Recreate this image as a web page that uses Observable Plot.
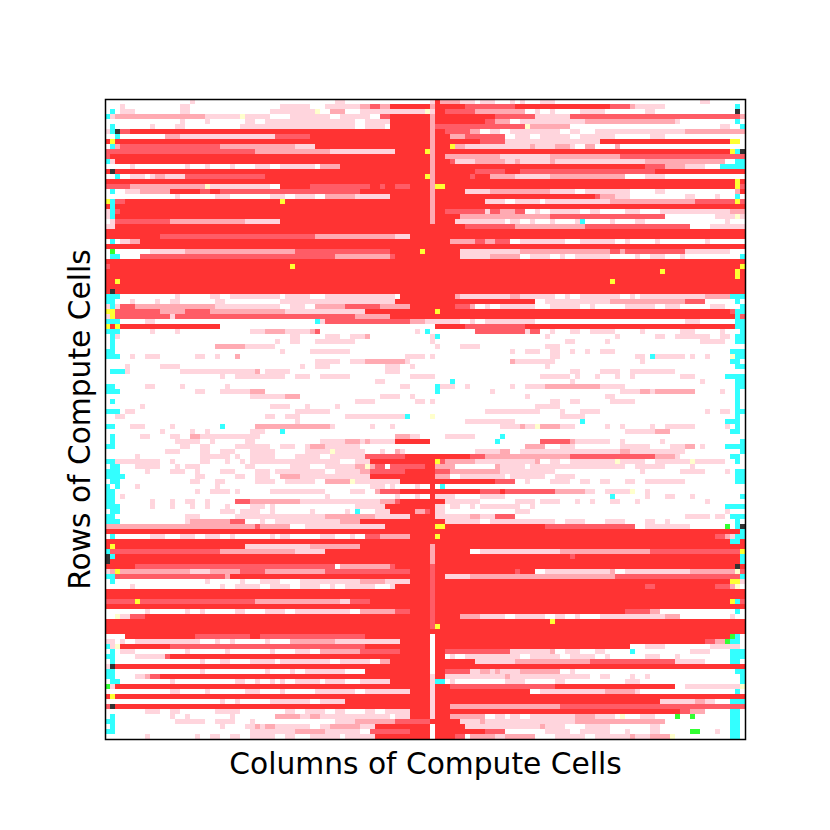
<!DOCTYPE html>
<html>
<head>
<meta charset="utf-8">
<style>html,body{margin:0;padding:0;background:#fff}</style>
<script src="https://cdn.jsdelivr.net/npm/d3@7"></script>
<script src="https://cdn.jsdelivr.net/npm/@observablehq/plot@0.6"></script>
</head>
<body>
<div id="chart"></div>
<script>
const colorKeys = ["w","p","s","o","R","C","Y","K","G","L"];
const colorValues = ["#ffffff","#ffd5dd","#ffaab2","#ff5c66","#ff3333","#33ffff","#ffff33","#333333","#33ff33","#ffffcc"];
const xLabel = "Columns of Compute Cells";
const yLabel = "Rows of Compute Cells";
// each row: start column + state letter, a run lasts until the next start
const rows = [
"0w17p18w46p48w65p66R67s71p74w75p78w81p82w83p84w87p90w119p121w",
"0w3p4w15p17w35p41w44p51s53o55s57R65s66R72o82R101o105s106p112w126C127w",
"0w1C2w3p6w15p17w33p42L43w45s48w51p64L65p66R68o74s84w86p87w89p90w95p100w108p110w126K127w",
"0C1p2s20p27L28p33w37p45w47p53w55o57R65s66R78o86p93o127s",
"0w15p16w20p21w28p30w32p50w52p57R65s66R76o78s81w83p96s114p115w126C127w",
"0w1C2w9p10w14p16w27p50w52p56w57R65s66o84L85s93w123p125w127C",
"0p1C2K3o5R65s66R68o73s75w77p79w81p91w93p95w98p116s",
"0w2C3w12s15p34o41R65s66R69s72o80w82p85w87p93w95p102w109p112w",
"0R1Y2R65s66R75o80p99R125Y127w",
"0w1C2s3o23s38p42R65s66R69Y70s72p85s86p90s93p94w96s98w102s103w",
"0o30s45p58R64Y65s66R125Y126C127K",
"0o1R65s66R68s79p89s103o",
"0C1p2R65s66R69o70p74s80p82s83p89s90p108s124w126C",
"0w5p6w16p17w20p21w25p26w30p33w35p42w43s47R65s66R108o112s116p120w123C",
"0R1K2R65s66R74o80R83o110R",
"0w2C3w5p8w9p10s12p16o32R64Y65s66R73o74R77s82p89s104w108p112w",
"0R65s66R126Y127R",
"0o5s20L21p33w35R41o53R55o56R58o61R65s66Y68R126Y127o",
"0w1C2w4p7s13R19o21R23o51R65s66R72p77s89p94w96p105w110p112w126s127R",
"0w14p15w22p25w33p36w38p42w44s50p57R65s66R98o99s102p105w116p118w122p123w126C127w",
"0Y1C2o4R35Y36R65s66R76p80w82p87w88p101s118o126Y127o",
"0R1C2R65s66R",
"0p1C2o3R65s66R68o76p77o79s82o84w86p87w89p95w97p99w104p107w111p125s",
"0p1C2R65s66R71s89o112w122p126L127p",
"0w1p2o13s28p35R65s66R70p80w81p83w85p86w89p90w94p95C96w101p102w106p108w124p125w",
"0p2R72o82s96o117w121p",
"0R",
"0R11o42s58p61R",
"0w1C2w3p5s7R69s74o76s78o81w83p92w95p102w104p105w110p111w120p121w",
"0R",
"0w1G2w9p16s38o57R63Y64R71p83s101o103s104o116p125w",
"0w1C3w7o46s57o58R71p77s83w85p89w91p92w94p101w106p107w109p112w115p116w127C",
"0R",
"0o1R37Y38R127Y",
"0R111Y112R126Y127R",
"0R126Y127R",
"0R2Y3R101Y102R",
"0R",
"0R1K2R",
"0C3w14p15w21p23w25p35w36p41w44p58w59R70s71p81s83p90w92p93w95p103w105p106w107p120s125C",
"0C2w5p6w10p11w13p15w22p24w35p58R86w88p101s116o120w126C127w",
"0p1C2p3o6s22p35w37p40w42s48o55s61R70o73s74w76p77w79p86w89p95w97p98w104p110w112p115w121p124w127C",
"0Y2o11s16o21s36p52R66Y67R125o126C",
"0p1Y2o13p14o50s57R126C127o",
"0C3w8p10w42C43p44o61s64p71w73p74w76p86w116p119w126C",
"0Y1R2Y3R23w66R72o84R126C",
"0C3w9p10w14p15w29p32s36p41s42o43w62p63w64C65w74o84p85o87w89p90w93p95w97p102w107p108w115p118w123p124w127C",
"0w1C2p3w37p39w44p47w49p52s53w65p66C67w88p89w102p103w110p112w114p121w123p125w126C",
"0w1C2w34p35w37p39w42p50w65p66w92p94w100p101w119p124w126C",
"0w1C2w22s28p34w66p67w71p75w88p91w",
"0C2w35p36w41p49w81p82w84p87w89p91w93p94w96p97w99p102w125C",
"0C3w5p6w8p11w18p20w22p23w26s27w60p64w65p66w89p91w106p108w109C110p116w117p118w120p121w125L126C",
"0w42p47w49p52s60p61w81s82p90w107p108w125C127w",
"0w4p5w11p15w39p40w42p45w56p59w61p62w88p89w126C",
"0w1C4p5w15p30s31w32p37w56p59w93p95w99p103w105p114w",
"0w23p24w26p36w38p41w43p49w61p66w87p93w94p95w98p99w102p103w105p106w115p118w124C",
"0w54p56w69C70w93p94w119p120w126C",
"0C2w8p10w15p16w24p25w59p61w66C67p70w72p73w81p82w84p88s99p104w126C",
"0C3w18p20w23p29s32w66C67w77p78w103p107s109p110s118w123p124w126C127w",
"0w29p36s39w55p59w61p62w84p85w100p102w126C127w",
"0w1C2w50p54w62p64w65p66w89p91w93p95w101p106w126C127w",
"0w7p8w33p37w40p41w46p47w86p91w126C127w",
"0C3w4p6w38p45w76p87w91p92w95p99w120p121w123p125w126C",
"0w2p4w32p34w36p39w48p60C61w65L66w91p96w126C127w",
"0w38p39w72p82w95C96w124C127w",
"0C2w5p8w13p14w23C24w30s45p46w53p54w57p58w79p83s84p86L87s91p94w100p101w103p104w109p110w112p118w124p125w126C127w",
"0w11p12w17p18w20p21w29p32w35C36w104p110s113w125C127w",
"0w1C2w7p9w13p15w17s19p31w58s61p63w68p74w79C80w",
"0w1C2w14p19w21p22w28p30w43p48s51p52s53p58R65w78C79w87o93s94p101w103p104w111p112w127C",
"0C2w15p17w19p21w26p33w35p38w40p41s44p51w84s88w91p94w103p109w113p116s118w119p120w124C",
"0w12p15w19p21w23p26w29p34w40p45L46p52w55p56w58s59p60w74p79s81w83p103s105p116w127C",
"0w6p7w19p25w26p27w29p34w38p43w45p52o60R73o76s93o110s114p115w125C127w",
"0C2p11w13p14w19p21w24p25w27p28w29p47w50p53R66Y67o68s74p86s87w89p91w93p102L103p108w110p117L118p124w126C127w",
"0w1C3w6p11w14p15w16p19w28p30w37p41w44p50s52L53s54o56w57o64R66s70w78s79p84w85p104w106p112w117p118w",
"0C3w8p9w13p16w18p19w23p26w30p33w34p44w46p51s53o60R66o69s79p90w107p108w115p120w124p125w126C",
"0C4w18p20w26p28w30p33w35s39p53R66s69w71p80w81p88w90p94w126C",
"0w1C3w17p19w22p24w30p34w36p42w44s49L50p59R78o82w84p85w89p93w95p97w99p101w104p106w108p116w126C",
"0C1w2C3w6p7w22p23w53p56w57p58w62p63w65R66w67C68w",
"0C2w18p19w21p25w26p27w33p44w49p52w54s55o59R75o79R80o90s96p98w100p105L106w108p109w",
"0C2w3p4w44p45w58p59w62p63w65R66p70w75p80w101C102w108p109w112p114w117p118w127C",
"0C2w9p10w13p14w16p18w20p21w26o29s39p55s58o59R68p75w82p86w87p91w94p95w97p98w101p103w106p107w120p121w",
"0C3w9p10w13p14w17p18w20p21w24p25w29p32w33p34w50p56R66p68w69p71w73p74w75p83w85p86w124C",
"0w1C3w23p26w27p31w33p34w41p42w48p49w50C51w54p57R62s64o65R66p68w82p85w124p125w",
"0C2w16p19w26p44s54p61R66p73s75p78o82w116p121w122p124w125C",
"0C3w16p17s25o28w31p32w34p47s51R68p75w77p90w92p96w100p104w108p110w112p113w126C127w",
"0s30o31s37w40p56R66Y68R88o106w108p117w124G125w126C127K",
"0R127C",
"0w1C2w9p12w15p18w20p23w25p26w33p34w35p37w43p46w49p50w52o55s61R66Y67R122o124s125p126C",
"0R125C127R",
"0R1Y2R28p41s51R65s66R",
"0C1o23s38p44R65s66R73w75p91s109o127Y",
"0K1C2R65s66R93o94R127C",
"0K1R65s66R127C",
"0R6o46w47s57o58R65o66R126K127R",
"0p1s2Y3s17p21s27o32s44o61R65o66R82o83R86w88p101s102w104p117s126L127o",
"0C2o24s25R65o66R68p73s102o127C",
"0w1C2w20p21w27p28w31p35w39p51s56p61R65o66R125Y127p",
"0w5p6w23p24w26p31w33p37w39p43w45p46w48p54w57p58R65o66R108o110R122o125s126L127w",
"0R65o66R",
"0R65o66R",
"0o6Y7o30s47p49o53R65o66R125Y126C127o",
"0R65o66R",
"0w8p9w16p17w19p20w26p28w32p36w38p49w51s58o61R65o66R104o109s111w126C127w",
"0w2L3p5o8R65o66R71s75p80w82p88w90p92w94p95w99p112s115w125p126w",
"0R65o66R89Y90R",
"0R65o66Y67R",
"0R",
"0w4R18o29R31o52R65w66R125G126C127w",
"0p2w3p4w6p19w22p23w25p26w32p33w37s46p59R65w66R120o122s124G125C127w",
"0C1p2L3R13o52R65w66R105w108p112w121p127w",
"0w1C2w3p6w16p17w24p25w33p34w38p41w43s51o59R65w66R68o81p89s90w92p95w98p100w105C106w117p121w125C",
"0C2w6p12o13R65w66R68w69p70w72p83w85p91w93p98w100p101w108p111w114p115w125C",
"0w1C2w19p20w23p25w29p34w35p45w47p53w55s57R65w66R74p82s97o114p120w125C127w",
"0p1K2R65w66R",
"0C2w19p20w32p33w37p38w40p48w52R65w66R68o73p75s77p78s79p83s91w93p94w126C",
"0C2w6p8s9o11R65p66R68p80s81p97w99p101w105p106w108p109w127C",
"0w1C3w13p14w26p28w30p31w33p34w35p36w38p43w44p48w51p57R65p66C68w69p70w80p84w90p92w104p107w127C",
"0G1p2R65p66R69o90R114w116p127L",
"0w13p15w20p21w28p31w35p36w42p50w52p61R65p66R85w87p100s106p107w126C127w",
"0R1Y2R65p66R",
"0w23p24w26p27w33p41w43p48R65p66R111p118s120p122w125C",
"0o1K2R65p66R69s91o",
"0w8p11w13p15w22p27w36p38w40p44w46p48w52p54w56p61R65p66R115o117s120w125C127w",
"0w1C2w13p14w16p17w25p26w34s39p41s43p57w58p61R65p66R69s76w78p80w81p83w85p94s98p102w103L104w107p110w114G115w117G118w125C127w",
"0C2w14p20w22p26w29p30w46p50s58o65R71p75s76p94s112w125C127w",
"0w1C2w23p24w28p30s31p32s34p41w43p45s51p54R65w66R72p87s88p92w96p101w109p111w125C127w",
"0C2w29p38s44p51w53o61R65w66R76o80w88p93w95p101w104p105w109p111w117G119w122p123w125C127w",
"0w8p9w18p19w21p23w25p27w29p34w36p38w41p47w48p54R65w66R70o72w73s78p80s86w90p96w98p105s106p109s113L114w125C127w"
];
const columnCount = 128;
const cells = rows.flatMap((row, r) => {
  const runs = [...row.matchAll(/(\d+)([a-zA-Z])/g)].map(m => [+m[1], m[2]]);
  return runs.flatMap(([start, state], i) => {
    const end = i + 1 < runs.length ? runs[i + 1][0] : columnCount;
    return d3.range(start, end).map(c => ({row: r, col: c, state}));
  });
});
const chart = Plot.plot({
  width: 830,
  height: 830,
  marginLeft: 105,
  marginRight: 85,
  marginTop: 99,
  marginBottom: 91,
  style: {fontFamily: "DejaVu Sans", background: "#fff", color: "#000"},
  x: {type: "band", domain: d3.range(columnCount), padding: 0, round: false},
  y: {type: "band", domain: d3.range(rows.length), padding: 0, round: false},
  color: {type: "ordinal", domain: colorKeys, range: colorValues},
  marks: [
    Plot.cell(cells, {x: "col", y: "row", fill: "state", shapeRendering: "crispEdges"}),
    Plot.frame({stroke: "#000", strokeWidth: 1.5}),
    Plot.axisX({ticks: [], tickSize: 0, label: xLabel, labelAnchor: "center", labelArrow: "none", labelOffset: 34, fontSize: 29.7}),
    Plot.axisY({ticks: [], tickSize: 0, label: yLabel, labelAnchor: "center", labelArrow: "none", labelOffset: 37, fontSize: 29.7})
  ]
});
document.getElementById("chart").appendChild(chart);
</script>
</body>
</html>
